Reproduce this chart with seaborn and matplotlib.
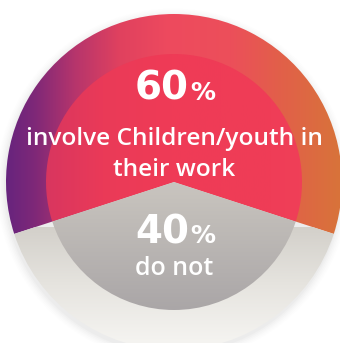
import numpy as np
import matplotlib
matplotlib.use("Agg")
import matplotlib.pyplot as plt
import seaborn as sns
from matplotlib.colors import LinearSegmentedColormap
from matplotlib.patches import Circle

# ---- data ----
categories = ["involve Children/youth in\ntheir work", "do not"]
values = [60, 40]
pct_labels = ["60", "40"]

sns.set_theme(style="white")
plt.rcParams["font.family"] = ["Open Sans", "DejaVu Sans"]

W, H = 340, 343
fig = plt.figure(figsize=(W / 100, H / 100), dpi=100)
ax = fig.add_axes([0, 0, 1, 1])

cx, cy = 174, H - 182
R_out, R_in = 168, 128

# soft shadow
for i, a in enumerate([0.035, 0.03, 0.025, 0.02, 0.015, 0.01]):
    ax.add_patch(Circle((cx - 1, cy - 3), R_out + 1 + i * 1.5, color="#888888",
                        alpha=a, lw=0, zorder=0))

outer, _ = ax.pie(values, startangle=-18, radius=R_out, center=(cx, cy),
                  colors=["none", "none"], wedgeprops=dict(linewidth=0))
inner, _ = ax.pie(values, startangle=-18, radius=R_in, center=(cx, cy),
                  colors=["none", "none"], wedgeprops=dict(linewidth=0))

ax.set_xlim(0, W)
ax.set_ylim(0, H)
ax.axis("off")

def hgrad(stops, patch, z):
    cmap = LinearSegmentedColormap.from_list("g", stops)
    arr = np.linspace(0, 1, 512)[None, :]
    im = ax.imshow(arr, cmap=cmap, extent=(0, W, 0, H), aspect="auto",
                   interpolation="bicubic", zorder=z, origin="lower")
    im.set_clip_path(patch)

def vgrad(stops, patch, z, y_top, y_bot):
    # first stop at the top, last stop at the bottom
    cmap = LinearSegmentedColormap.from_list("g", stops)
    arr = np.linspace(1, 0, 512)[:, None]
    im = ax.imshow(arr, cmap=cmap, extent=(0, W, y_bot, y_top), aspect="auto",
                   interpolation="bicubic", zorder=z, origin="lower")
    im.set_clip_path(patch)

# outer coloured slice: horizontal purple -> red -> orange
hgrad([(0.0, "#62237f"), (0.10, "#7e2878"), (0.22, "#b6356c"),
       (0.35, "#e0415f"), (0.5, "#ee4a5e"), (0.68, "#ec4f5a"),
       (0.82, "#e25f4a"), (1.0, "#d8733a")], outer[0], 1)
# outer grey slice: vertical, darker at top
vgrad(["#d3d0ca", "#e6e4df", "#f5f4f1"], outer[1], 1, cy - 45, 0)
# inner coloured slice
hgrad([(0.0, "#c8346a"), (0.14, "#d9365f"), (0.3, "#ea3a58"),
       (0.5, "#ef3b56"), (0.8, "#ef3d57"), (1.0, "#f04259")], inner[0], 2)
# inner grey slice: lighter at top
vgrad(["#c9c5bf", "#aaa6a7"], inner[1], 2, cy, cy - R_in)

def Y(y):
    return H - y

num_font = dict(family="DejaVu Sans", weight="bold", color="white", zorder=5)
txt_font = dict(color="white", weight="semibold", zorder=5)
# 60%
ax.text(189, Y(100), pct_labels[0], ha="right", va="baseline", fontsize=28, **num_font)
ax.text(190, Y(100), "%", ha="left", va="baseline", fontsize=18, **num_font)
line1, line2 = categories[0].split("\n")
ax.text(174, Y(145), line1, ha="center", va="baseline", fontsize=17.6, **txt_font)
ax.text(174, Y(176), line2, ha="center", va="baseline", fontsize=17.6, **txt_font)
# 40%
ax.text(189, Y(243), pct_labels[1], ha="right", va="baseline", fontsize=28, **num_font)
ax.text(190, Y(243), "%", ha="left", va="baseline", fontsize=18, **num_font)
ax.text(174, Y(275), categories[1], ha="center", va="baseline", fontsize=18, **txt_font)

fig.savefig("out.png", dpi=100, facecolor="white")
